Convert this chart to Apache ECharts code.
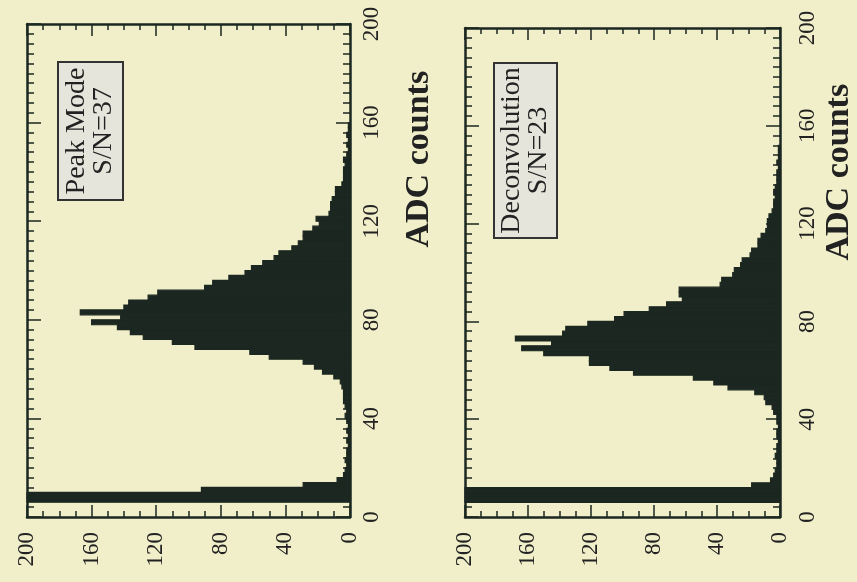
<!DOCTYPE html>
<html>
<head>
<meta charset="utf-8">
<script src="https://cdn.jsdelivr.net/npm/echarts@6/dist/echarts.min.js"></script>
<style>
  html, body { margin: 0; padding: 0; background: #f0efc9; }
  #chart { width: 857px; height: 582px; }
</style>
</head>
<body>
<div id="chart"></div>
<script>
// ADC-count bins (lower edges), bin width 2
const binStart = [0,2,4,6,8,10,12,14,16,18,20,22,24,26,28,30,32,34,36,38,
  40,42,44,46,48,50,52,54,56,58,60,62,64,66,68,70,72,74,76,78,
  80,82,84,86,88,90,92,94,96,98,100,102,104,106,108,110,112,114,116,118,
  120,122,124,126,128,130,132,134,136,138,140,142,144,146,148,150,152,154,156,158,
  160,162];
const BIN_WIDTH = 2;

// Peak Mode histogram (entries per bin)
const peakModeCounts = [0,0,0,260,260,92,29,8,4,3,2,3,2,2,1,2,1,2,1,2,
  3,2,3,4,4,4,5,6,10,17,22,29,50,62,96,110,128,136,144,160,
  142,167,140,137,125,119,90,85,75,65,61,54,47,44,36,32,29,29,23,19,
  21,13,12,12,11,9,9,5,4,4,4,3,4,2,1,2,1,2,1,1,
  0,0];

// Deconvolution histogram (entries per bin)
const deconvCounts = [0,0,0,260,260,260,18,6,4,3,2,2,3,2,2,1,2,2,1,2,
  2,4,5,9,10,16,33,42,55,93,108,121,121,150,164,145,168,138,136,122,
  105,99,83,72,62,64,64,38,37,30,29,25,24,19,18,14,14,12,9,8,
  8,7,5,4,4,3,4,3,2,2,2,1,2,1,1,1,0,0,0,0,
  0,0];

const panelLabels = [["Peak Mode", "S/N=37"], ["Deconvolution", "S/N=23"]];
const axisTitle = "ADC counts";

const INK = '#1b2720';
const TXT = '#222222';
const SERIF = '"Liberation Serif", "DejaVu Serif", serif';

function histData(counts) {
  return binStart.map((s, i) => [s, s + BIN_WIDTH, counts[i]]);
}

function renderBin(params, api) {
  const start = api.value(0), end = api.value(1), cnt = api.value(2);
  if (!cnt) return null;
  const p0 = api.coord([0, start]);
  const p1 = api.coord([cnt, end]);
  const cs = params.coordSys;
  const r = echarts.graphic.clipRectByRect({
    x: Math.min(p0[0], p1[0]), y: Math.min(p0[1], p1[1]),
    width: Math.abs(p1[0] - p0[0]), height: Math.abs(p1[1] - p0[1])
  }, { x: cs.x, y: cs.y, width: cs.width, height: cs.height });
  if (!r) return null;
  return { type: 'rect', shape: r, style: { fill: INK, stroke: INK, lineWidth: 1.2 } };
}

const lineStyle = { color: INK, width: 2.5 };
const tickStyle = { color: INK, width: 1.5 };

function countAxis(gi, pos, showLabel) {
  return {
    gridIndex: gi, type: 'value', min: 0, max: 200, interval: 40, inverse: true,
    position: pos,
    axisLine: { show: true, onZero: false, lineStyle: lineStyle },
    axisTick: { show: true, inside: true, length: 12, lineStyle: tickStyle },
    minorTick: { show: true, splitNumber: 4, length: 6, lineStyle: tickStyle },
    splitLine: { show: false },
    axisLabel: { show: showLabel, rotate: 90, margin: 15, fontSize: 23, fontFamily: SERIF, color: TXT }
  };
}

function adcAxis(gi, pos, showLabel, labelMargin, nameGap, namePad) {
  const a = {
    gridIndex: gi, type: 'value', min: 0, max: 200, interval: 40,
    position: pos,
    axisLine: { show: true, onZero: false, lineStyle: lineStyle },
    axisTick: { show: true, inside: true, length: 14, lineStyle: tickStyle },
    minorTick: { show: true, splitNumber: 10, length: 7, lineStyle: tickStyle },
    splitLine: { show: false },
    axisLabel: { show: showLabel, rotate: 90, margin: labelMargin, fontSize: 23, fontFamily: SERIF, color: TXT }
  };
  if (showLabel) {
    a.name = axisTitle;
    a.nameLocation = 'middle';
    a.nameRotate = 90;
    a.nameGap = nameGap;
    a.nameTextStyle = { fontSize: 34, fontWeight: 'bold', fontFamily: SERIF, color: TXT, align: 'left', padding: [0, 0, 0, namePad] };
  }
  return a;
}

const chart = echarts.init(document.getElementById('chart'), null, { renderer: 'canvas' });

chart.setOption({
  backgroundColor: '#f0efc9',
  animation: false,
  grid: [
    { left: 27, right: 857 - 350, top: 24, bottom: 582 - 517 },
    { left: 465, right: 857 - 786, top: 28, bottom: 582 - 517 }
  ],
  xAxis: [
    countAxis(0, 'bottom', true), countAxis(0, 'top', false),
    countAxis(1, 'bottom', true), countAxis(1, 'top', false)
  ],
  yAxis: [
    adcAxis(0, 'right', true, 10, 52, 23), adcAxis(0, 'left', false),
    adcAxis(1, 'right', true, 16, 42, 12), adcAxis(1, 'left', false)
  ],
  series: [
    { type: 'custom', name: panelLabels[0][0], xAxisIndex: 0, yAxisIndex: 0,
      renderItem: renderBin, encode: { x: 2, y: [0, 1] }, data: histData(peakModeCounts), z: 1 },
    { type: 'custom', name: panelLabels[1][0], xAxisIndex: 2, yAxisIndex: 2,
      renderItem: renderBin, encode: { x: 2, y: [0, 1] }, data: histData(deconvCounts), z: 1 }
  ],
  graphic: [
    { type: 'rect', shape: { x: 58, y: 62, width: 65, height: 138 },
      style: { fill: '#e5e5dc', stroke: '#333', lineWidth: 2 }, z: 100 },
    { type: 'text', x: 90.5, y: 131, rotation: Math.PI / 2, z: 101,
      style: { text: panelLabels[0].join('\n'), fontSize: 28, lineHeight: 27, fontFamily: SERIF,
        fill: TXT, align: 'center', verticalAlign: 'middle' } },
    { type: 'rect', shape: { x: 494, y: 63, width: 63, height: 175 },
      style: { fill: '#e5e5dc', stroke: '#333', lineWidth: 2 }, z: 100 },
    { type: 'text', x: 525.5, y: 150.5, rotation: Math.PI / 2, z: 101,
      style: { text: panelLabels[1].join('\n'), fontSize: 28, lineHeight: 27, fontFamily: SERIF,
        fill: TXT, align: 'center', verticalAlign: 'middle' } }
  ]
});
</script>
</body>
</html>
